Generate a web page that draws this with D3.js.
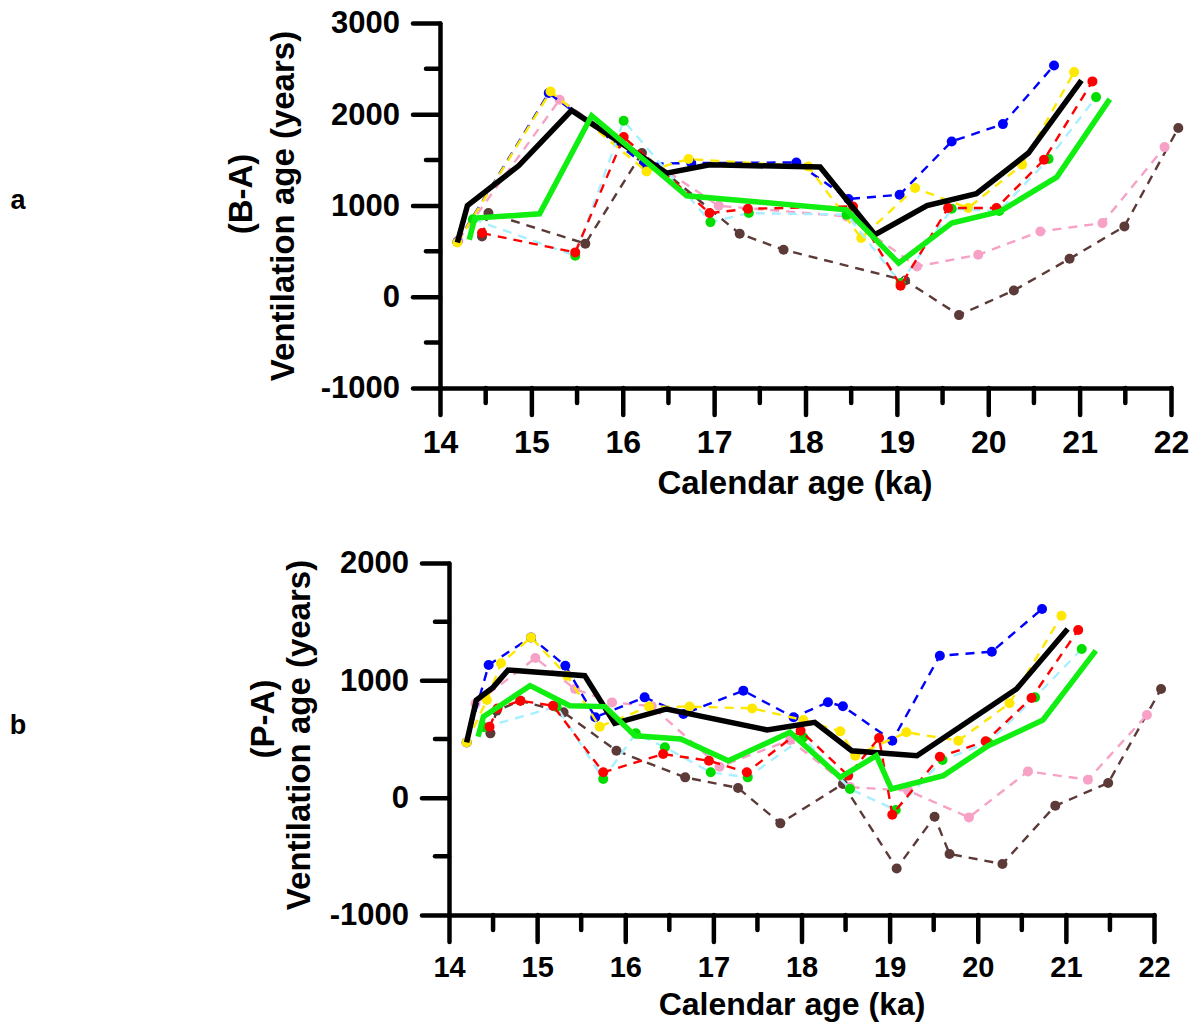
<!DOCTYPE html>
<html><head><meta charset="utf-8">
<script src="https://cdn.jsdelivr.net/npm/d3@7"></script>
<style>body{margin:0;background:#fff}svg{display:block}</style>
</head><body>
<svg id="chart" width="1197" height="1026"></svg>
<script>
// ---------- DATA (calendar age ka, ventilation age years) ----------
// Panel a  (B-A)
const aBlack  = [[14.19,595],[14.30,1000],[14.86,1435],[15.44,2042],[16.48,1355],[16.95,1447],[18.16,1421],[18.76,680],[19.33,1000],[19.87,1129],[20.44,1575],[21.02,2370]];
const aGreen  = [[14.32,625],[14.38,862],[15.09,909],[15.66,1984],[16.70,1107],[18.45,953],[19.02,369],[19.60,807],[20.13,935],[20.75,1311],[21.33,2166]];
const aBlue   = [[14.19,600],[15.19,2232],[16.23,1457],[16.75,1465],[17.90,1472],[18.47,1071],[19.03,1118],[19.60,1702],[20.16,1892],[20.72,2535]];
const aYellow = [[14.19,595],[15.21,2250],[16.26,1373],[16.72,1509],[18.03,1428],[18.61,643],[19.20,1191],[19.78,972],[20.37,1447],[20.94,2462]];
const aRed    = [[14.46,698],[15.48,486],[16.01,1750],[16.95,917],[17.37,964],[18.52,990],[19.04,121],[19.56,972],[20.09,972],[20.61,1501],[21.14,2360]];
const aCyan   = [[14.36,850],[15.48,449],[16.01,1929],[16.96,818],[17.38,917],[18.45,900],[19.04,150],[19.60,964],[20.12,940],[20.66,1509],[21.18,2188]];
const aPink   = [[14.20,620],[15.31,2159],[17.05,997],[18.45,880],[19.22,332],[19.89,460],[20.57,716],[21.25,807],[21.93,1640]];
const aBrown  = [[14.46,661],[14.53,917],[15.59,582],[16.21,1575],[17.28,690],[17.76,515],[19.09,179],[19.68,-201],[20.28,69],[20.89,416],[21.49,771],[22.08,1849]];
// Panel b  (P-A)
const bBlack  = [[14.20,471],[14.31,832],[14.50,940],[14.67,1088],[15.54,1040],[15.88,633],[16.47,756],[17.61,577],[18.15,642],[18.57,400],[19.31,358],[20.44,926],[21.02,1438]];
const bGreen  = [[14.33,520],[14.39,690],[14.92,955],[15.37,784],[15.77,776],[16.11,528],[16.63,500],[17.17,315],[17.87,557],[18.44,173],[18.85,358],[19.02,74],[19.61,188],[20.12,443],[20.74,662],[21.34,1253]];
const bBlue   = [[14.20,471],[14.45,1130],[14.93,1366],[15.32,1125],[15.66,685],[16.22,855],[16.66,713],[17.34,912],[17.91,685],[18.30,813],[18.47,779],[19.03,486],[19.57,1210],[20.16,1244],[20.73,1608]];
const bYellow = [[14.20,471],[14.43,832],[14.59,1145],[14.93,1366],[15.34,1040],[15.71,605],[16.27,776],[16.73,776],[17.44,761],[18.02,662],[18.44,565],[18.61,358],[19.19,557],[19.78,486],[20.36,804],[20.95,1551]];
const bRed    = [[14.46,605],[14.55,760],[14.81,826],[15.18,784],[15.75,216],[16.43,372],[16.95,315],[17.38,216],[17.99,571],[18.53,188],[18.88,509],[19.03,-145],[19.57,349],[20.09,480],[20.61,849],[21.14,1429]];
const bCyan   = [[14.40,600],[15.22,776],[15.75,159],[16.12,548],[16.45,429],[16.97,216],[17.39,173],[18.02,514],[18.55,74],[19.07,-105],[19.60,321],[20.12,470],[20.65,855],[21.18,1267]];
const bPink   = [[14.30,800],[14.98,1190],[15.43,926],[15.85,812],[16.30,780],[17.07,264],[17.87,491],[18.55,90],[19.21,60],[19.90,-168],[20.57,224],[21.25,153],[21.92,705]];
const bBrown  = [[14.47,548],[14.54,741],[14.81,826],[15.30,727],[15.90,400],[16.68,173],[17.28,83],[17.76,-219],[18.47,117],[19.08,-603],[19.51,-162],[19.68,-480],[20.28,-565],[20.88,-68],[21.48,125],[22.08,926]];

const xTicks  = [14,15,16,17,18,19,20,21,22];
const aYTicks = [-1000,0,1000,2000,3000];
const bYTicks = [-1000,0,1000,2000];

// ---------- STYLE ----------
const FONT = "'Liberation Sans', Arial, Helvetica, sans-serif";
const dashedStyles = {
  brown:  {line:"#5b3a38", dot:"#5b3a38"},
  pink:   {line:"#f7a1c6", dot:"#f7a1c6"},
  blue:   {line:"#0000ff", dot:"#0000ff"},
  yellow: {line:"#ffe800", dot:"#ffe800"},
  cyan:   {line:"#a8f0ff", dot:"#00dd00"},
  red:    {line:"#ff0000", dot:"#ff0000"}
};

const svg = d3.select("#chart");

function panel(cfg){
  const x = d3.scaleLinear().domain([14,22]).range(cfg.xr);
  const y = d3.scaleLinear().domain(cfg.yd).range(cfg.yr);
  const g = svg.append("g");

  const xMinor = d3.range(14.5,22,1);
  const yMinor = d3.range(cfg.yd[0]+500, cfg.yd[1], 1000);

  const xAxis = d3.axisBottom(x).tickValues(xTicks).tickFormat(d=>String(d)).tickSize(27).tickSizeOuter(0).tickPadding(cfg.xpad);
  const yAxis = d3.axisLeft(y).tickValues(cfg.yticks).tickFormat(d=>String(d)).tickSize(27).tickSizeOuter(0).tickPadding(13);

  const gx = g.append("g").attr("transform",`translate(0,${cfg.yr[0]})`).call(xAxis);
  gx.append("g").selectAll("line").data(xMinor).join("line")
    .attr("x1",d=>x(d)).attr("x2",d=>x(d)).attr("y1",0).attr("y2",15);
  const gy = g.append("g").attr("transform",`translate(${cfg.xr[0]},0)`).call(yAxis);
  gy.append("g").selectAll("line").data(yMinor).join("line")
    .attr("y1",d=>y(d)).attr("y2",d=>y(d)).attr("x1",0).attr("x2",-14);

  [gx,gy].forEach(a=>{
    a.selectAll("path,line").attr("stroke","#000").attr("stroke-width",4.5).attr("stroke-linecap","round");
    a.selectAll("text").attr("fill","#000").attr("font-family",FONT).attr("font-weight","bold");
  });
  gx.selectAll("text").attr("font-size",cfg.xfs);
  gy.selectAll("text").attr("font-size",31);

  const line = d3.line().x(d=>x(d[0])).y(d=>y(d[1]));

  cfg.dashed.forEach(s=>{
    const st = dashedStyles[s.key];
    g.append("path").datum(s.data).attr("d",line).attr("fill","none")
      .attr("stroke",st.line).attr("stroke-width",2.4).attr("stroke-dasharray","9,7");
    g.append("g").selectAll("circle").data(s.data).join("circle")
      .attr("cx",d=>x(d[0])).attr("cy",d=>y(d[1])).attr("r",5).attr("fill",st.dot);
  });
  g.append("path").datum(cfg.black).attr("d",line).attr("fill","none")
    .attr("stroke","#000").attr("stroke-width",5.5);
  g.append("path").datum(cfg.green).attr("d",line).attr("fill","none")
    .attr("stroke","#11ee11").attr("stroke-width",5.5);

  const txt = (t,xx,yy,size,rot)=>g.append("text").text(t)
    .attr("transform",`translate(${xx},${yy})`+(rot?" rotate(-90)":""))
    .attr("text-anchor","middle").attr("font-family",FONT).attr("font-weight","bold")
    .attr("font-size",size).attr("fill","#000");
  txt("Calendar age (ka)", cfg.xtitle[0], cfg.xtitle[1], cfg.xtfs, false);
  txt("Ventilation age (years)", cfg.vt[0], cfg.vt[1], 33, true);
  txt(cfg.sub, cfg.st[0], cfg.st[1], 33, true);
  txt(cfg.letter, cfg.lt[0], cfg.lt[1], 27, false);
}

panel({
  xr:[440,1171], yd:[-1000,3000], yr:[388,23], yticks:aYTicks,
  black:aBlack, green:aGreen, xfs:32, xpad:15, xtfs:33,
  dashed:[{key:"brown",data:aBrown},{key:"pink",data:aPink},{key:"blue",data:aBlue},{key:"yellow",data:aYellow},{key:"cyan",data:aCyan},{key:"red",data:aRed}],
  xtitle:[795,494], vt:[294,206], sub:"(B-A)", st:[252,194], letter:"a", lt:[18,209]
});
panel({
  xr:[449,1154], yd:[-1000,2000], yr:[915,563], yticks:bYTicks,
  black:bBlack, green:bGreen, xfs:29, xpad:14, xtfs:32,
  dashed:[{key:"brown",data:bBrown},{key:"pink",data:bPink},{key:"blue",data:bBlue},{key:"yellow",data:bYellow},{key:"cyan",data:bCyan},{key:"red",data:bRed}],
  xtitle:[792,1015], vt:[310,735], sub:"(P-A)", st:[274,719], letter:"b", lt:[18,734]
});
</script>
</body></html>
